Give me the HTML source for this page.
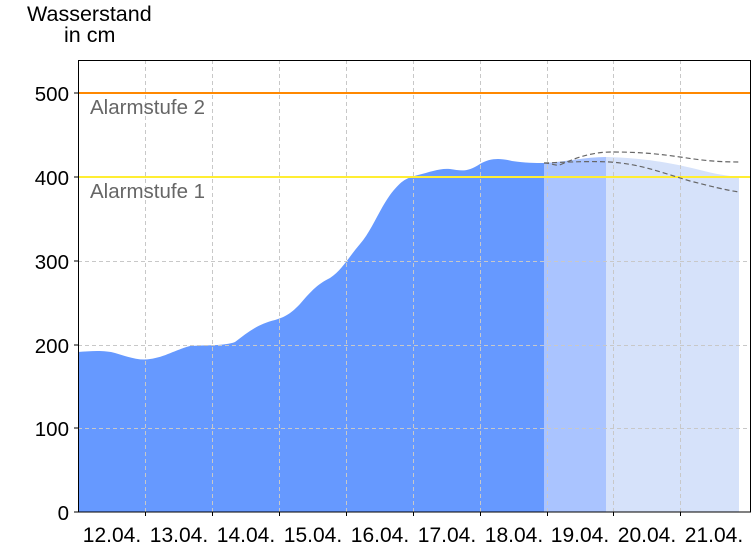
<!DOCTYPE html><html><head><style>body{margin:0;background:#fff}svg text{font-family:"Liberation Sans",sans-serif}</style></head><body>
<svg width="756" height="546" xmlns="http://www.w3.org/2000/svg">
<rect width="756" height="546" fill="#fff"/>
<path d="M78,352 C90,351 105,350 115,353 C128,357 140,361 150,359 C165,357 175,350 190,346 C205,345 225,346 235,342 C248,332 258,324 275,320 C288,316 292,312 300,304 C312,290 318,284 330,278 C342,270 348,258 360,244 C372,230 378,212 390,195 C400,182 405,178 418,175 C430,172 440,168 450,169 C462,171 468,172 480,164 C490,158 500,158 512,161 C525,163 535,163 544,163 L544,512 L78,512 Z" fill="#6699ff"/>
<path d="M544,163 C565,162 585,157 606,157 L606,512 L544,512 Z" fill="#aac4ff"/>
<path d="M606,157 C650,158 680,165 700,170 C715,174 728,176 739,177 L739,512 L606,512 Z" fill="#d6e2fa"/>
<g stroke="#c8c8c8" stroke-dasharray="4,3" stroke-width="1">
<line x1="145.5" y1="60" x2="145.5" y2="512"/><line x1="212.5" y1="60" x2="212.5" y2="512"/><line x1="279.5" y1="60" x2="279.5" y2="512"/><line x1="346.5" y1="60" x2="346.5" y2="512"/><line x1="413.5" y1="60" x2="413.5" y2="512"/><line x1="480.5" y1="60" x2="480.5" y2="512"/><line x1="547.5" y1="60" x2="547.5" y2="512"/><line x1="613.5" y1="60" x2="613.5" y2="512"/><line x1="680.5" y1="60" x2="680.5" y2="512"/>
<line x1="78" y1="428.5" x2="751" y2="428.5"/><line x1="78" y1="345.5" x2="751" y2="345.5"/><line x1="78" y1="261.5" x2="751" y2="261.5"/>
</g>
<line x1="78" y1="93" x2="751" y2="93" stroke="#ff8800" stroke-width="2"/>
<line x1="78" y1="177" x2="751" y2="177" stroke="#ffee33" stroke-width="2"/>
<g fill="none" stroke="#666" stroke-width="1.2" stroke-dasharray="5,3">
<path d="M544,163 C552,163 556,167 562,164 C580,156 595,152 612,152 C640,152 660,154 680,157 C700,160 715,162 739,162"/>
<path d="M544,163 C570,162 590,161 610,162 C640,164 660,172 690,181 C710,186 725,190 739,192"/>
</g>
<text x="90" y="114" font-size="20.5" fill="#666">Alarmstufe 2</text>
<text x="90" y="198" font-size="20.5" fill="#666">Alarmstufe 1</text>
<rect x="78.5" y="60.5" width="672" height="451.5" fill="none" stroke="#000"/>
<g stroke="#000"><line x1="74" y1="512" x2="78" y2="512"/><line x1="74" y1="428" x2="78" y2="428"/><line x1="74" y1="345" x2="78" y2="345"/><line x1="74" y1="261" x2="78" y2="261"/><line x1="74" y1="177" x2="78" y2="177"/><line x1="74" y1="93" x2="78" y2="93"/>
<line x1="145.5" y1="512" x2="145.5" y2="516"/><line x1="212.5" y1="512" x2="212.5" y2="516"/><line x1="279.5" y1="512" x2="279.5" y2="516"/><line x1="346.5" y1="512" x2="346.5" y2="516"/><line x1="413.5" y1="512" x2="413.5" y2="516"/><line x1="480.5" y1="512" x2="480.5" y2="516"/><line x1="547.5" y1="512" x2="547.5" y2="516"/><line x1="613.5" y1="512" x2="613.5" y2="516"/><line x1="680.5" y1="512" x2="680.5" y2="516"/></g>
<g font-size="20.5" fill="#000" text-anchor="end">
<text x="69" y="520">0</text><text x="69" y="436">100</text><text x="69" y="353">200</text><text x="69" y="269">300</text><text x="69" y="185">400</text><text x="69" y="101">500</text></g>
<g font-size="21" fill="#000" text-anchor="middle">
<text x="112" y="542">12.04.</text><text x="179" y="542">13.04.</text><text x="246" y="542">14.04.</text><text x="313" y="542">15.04.</text><text x="380" y="542">16.04.</text><text x="447" y="542">17.04.</text><text x="514" y="542">18.04.</text><text x="580" y="542">19.04.</text><text x="647" y="542">20.04.</text><text x="714" y="542">21.04.</text></g>
<text x="27" y="21" font-size="21.5">Wasserstand</text>
<text x="64" y="42" font-size="21.5">in cm</text>
</svg></body></html>
